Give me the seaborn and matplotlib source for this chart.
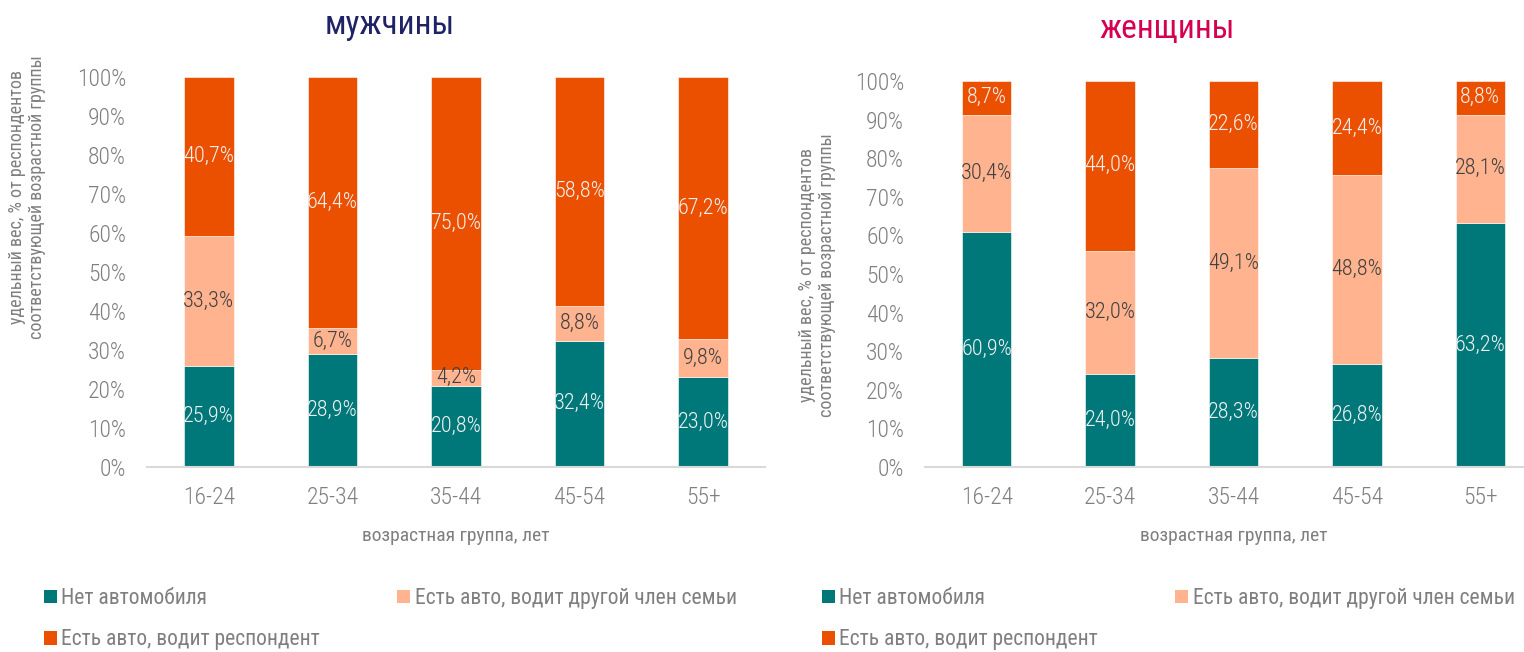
import matplotlib
matplotlib.use("Agg")
import matplotlib.pyplot as plt
import seaborn as sns
import numpy as np
from matplotlib.patches import Patch

sns.set_theme(style="white")
plt.rcParams['font.family'] = ['Roboto Condensed', 'Roboto', 'DejaVu Sans']
plt.rcParams['font.weight'] = 'light'

groups = ["16-24", "25-34", "35-44", "45-54", "55+"]
series_names = ["Нет автомобиля", "Есть авто, водит другой член семьи", "Есть авто, водит респондент"]

men_no_car = [25.9, 28.9, 20.8, 32.4, 23.0]
men_other = [33.3, 6.7, 4.2, 8.8, 9.8]
men_resp = [40.7, 64.4, 75.0, 58.8, 67.2]

women_no_car = [60.9, 24.0, 28.3, 26.8, 63.2]
women_other = [30.4, 32.0, 49.1, 48.8, 28.1]
women_resp = [8.7, 44.0, 22.6, 24.4, 8.8]

colors = ["#00787A", "#FFB38F", "#EB5000"]
label_colors = ["#F2F2F2", "#404040", "#F2F2F2"]
gray = "#7F7F7F"

fig = plt.figure(figsize=(15.24, 6.52), dpi=100)
W, H = 1524, 652

def px_axes(x0, x1, y0, y1):
    return fig.add_axes([x0 / W, 1 - y1 / H, (x1 - x0) / W, (y1 - y0) / H])

ax_m = px_axes(147, 765, 77, 467)
ax_w = px_axes(925, 1542, 81, 467)

def draw(ax, data, ylab_xy):
    bottom = np.zeros(len(groups))
    for vals, col, lc in zip(data, colors, label_colors):
        sns.barplot(x=groups, y=vals, bottom=bottom, color=col, width=0.4,
                    saturation=1, edgecolor="white", linewidth=0.4, ax=ax)
        cont = ax.containers[-1]
        ax.bar_label(cont, labels=[f"{v:.1f}%".replace(".", ",") for v in vals],
                     label_type="center", color=lc, fontsize=16)
        bottom = bottom + np.array(vals)
    ax.set_ylim(0, 100)
    ax.set_xlim(-0.5, 4.5)
    ax.set_yticks(np.arange(0, 101, 10))
    ax.set_yticklabels([f"{t}%" for t in range(0, 101, 10)])
    ax.tick_params(axis="y", length=0, pad=15, labelsize=17, labelcolor=gray)
    ax.tick_params(axis="x", length=0, pad=14, labelsize=17, labelcolor=gray)
    for s in ["top", "right", "left"]:
        ax.spines[s].set_visible(False)
    ax.spines["bottom"].set_color("#D9D9D9")
    ax.spines["bottom"].set_linewidth(1.5)
    ax.set_ylabel("удельный вес, % от респондентов\nсоответствующей возрастной группы",
                  fontsize=13, color=gray, linespacing=1.15, fontweight="normal")
    ax.yaxis.set_label_coords(*ylab_xy)
    ax.set_xlabel("возрастная группа, лет", fontsize=14, color=gray, fontweight="normal")
    ax.xaxis.set_label_coords(0.5, -0.155)
    ax.grid(False)

draw(ax_m, [men_no_car, men_other, men_resp], (-0.163, 0.692))
draw(ax_w, [women_no_car, women_other, women_resp], (-0.144, 0.497))

fig.text(390 / W, 1 - 25 / H, "мужчины", ha="center", va="center", fontsize=24,
         color="#1F2366", fontweight="normal")
fig.text(1167 / W, 1 - 29 / H, "женщины", ha="center", va="center", fontsize=24,
         color="#D5004F", fontweight="normal")

handles = [Patch(facecolor=c, edgecolor="none") for c in colors]
order = [0, 2, 1]
for x0 in (44, 822):
    fig.legend([handles[i] for i in order], [series_names[i] for i in order],
               loc="upper left", bbox_to_anchor=(x0 / W, 1 - 588 / H), ncol=2,
               frameon=False, labelcolor=gray, handlelength=0.6,
               prop={"size": 15.5, "weight": "normal"},
               handleheight=0.6, handletextpad=0.2, columnspacing=3.6,
               labelspacing=0.95, borderpad=0, borderaxespad=0)

fig.savefig("out.png", dpi=100)
